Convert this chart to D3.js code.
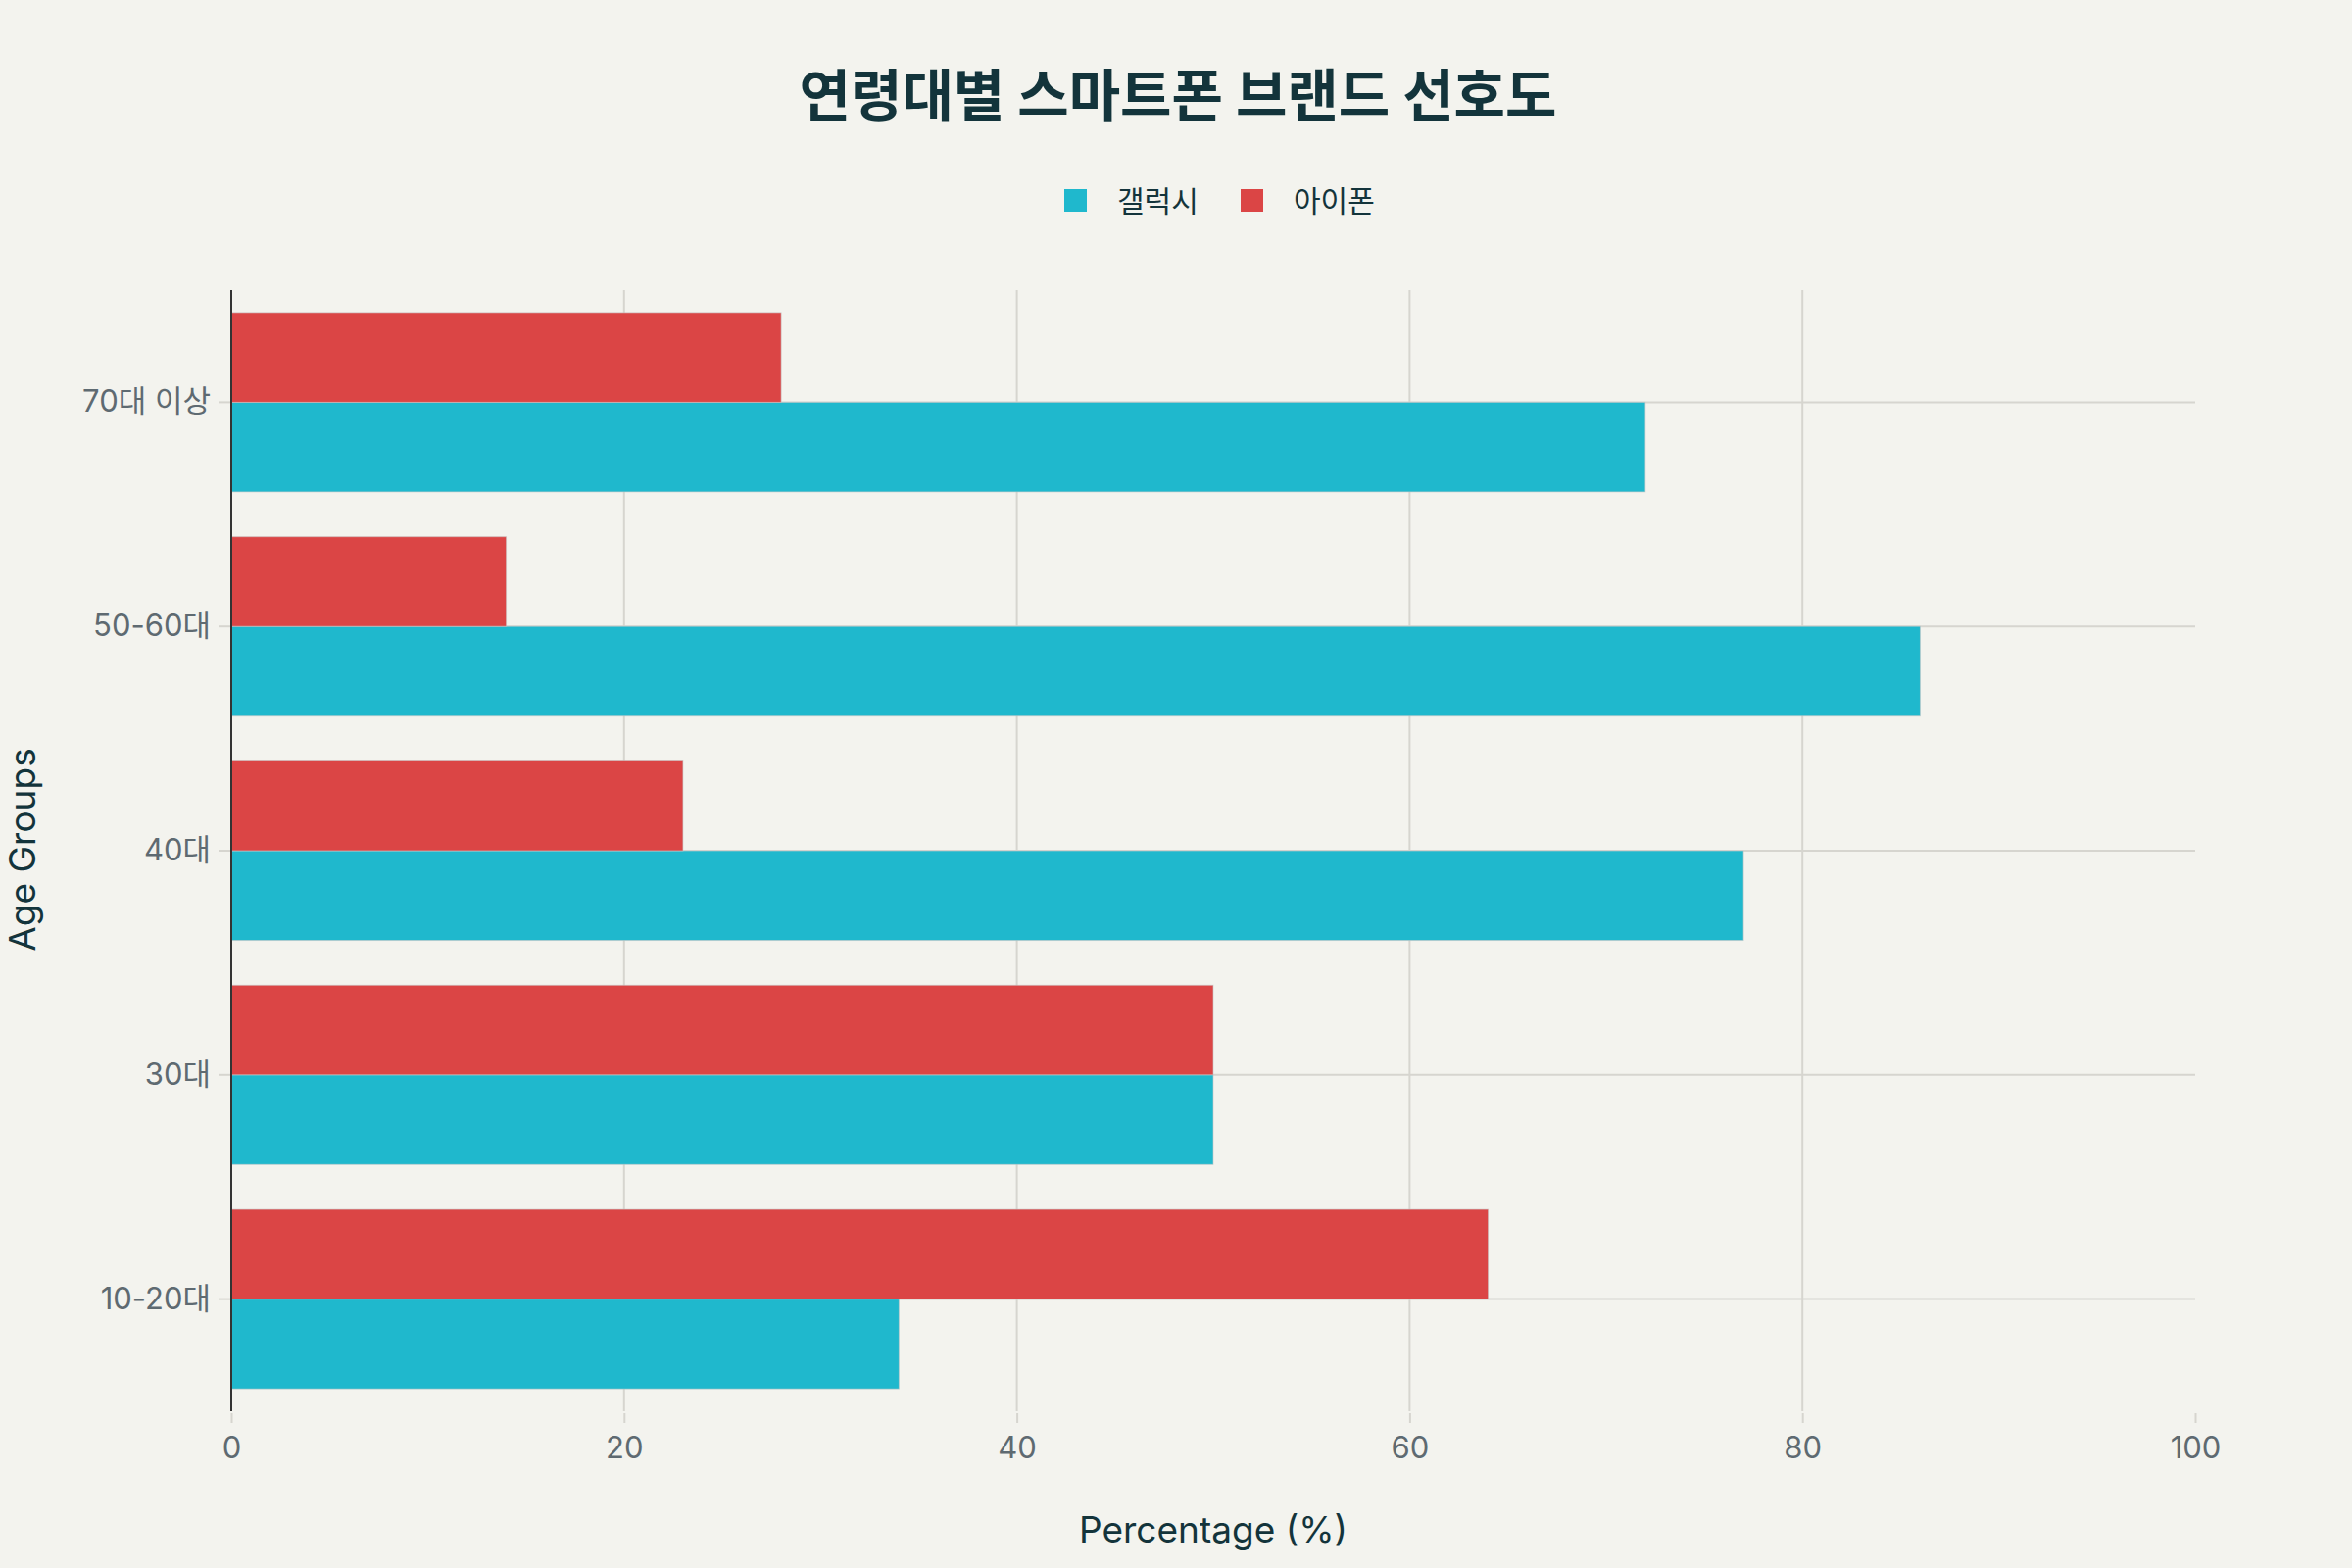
<!DOCTYPE html>
<html>
<head>
<meta charset="utf-8">
<script src="https://cdn.jsdelivr.net/npm/d3@7"></script>
<style>
  html, body { margin: 0; padding: 0; background: #F3F3EE; }
  svg { display: block; }
</style>
</head>
<body>
<svg id="chart" width="2400" height="1600"></svg>
<script>
const categories = ["10-20대", "30대", "40대", "50-60대", "70대 이상"];
const seriesNames = ["갤럭시", "아이폰"];
const galaxy = [34, 50, 77, 86, 72];
const iphone = [64, 50, 23, 14, 28];
const xTicks = [0, 20, 40, 60, 80, 100];
const colors = {"갤럭시": "#1FB8CD", "아이폰": "#DB4545"};

const W = 2400, H = 1600;
const margin = {left: 236, right: 160, top: 296, bottom: 160};
const FONT = "Inter, 'Noto Sans', 'Noto Sans CJK KR', sans-serif";

const svg = d3.select("#chart");
svg.append("rect").attr("width", W).attr("height", H).attr("fill", "#F3F3EE");

const x = d3.scaleLinear().domain([0, 100]).range([margin.left, W - margin.right]);
const y = d3.scaleBand().domain(categories.slice().reverse())
  .range([margin.top, H - margin.bottom]).paddingInner(0.2).paddingOuter(0.1);
const sub = d3.scaleBand().domain(["아이폰", "갤럭시"]).range([0, y.bandwidth()]);

const rows = categories.map((c, i) => ({cat: c, "갤럭시": galaxy[i], "아이폰": iphone[i]}));

// vertical gridlines
svg.append("g").selectAll("line").data(xTicks.filter(t => t > 0 && t < 100)).join("line")
  .attr("x1", d => x(d)).attr("x2", d => x(d))
  .attr("y1", margin.top).attr("y2", H - margin.bottom)
  .attr("stroke", "#D6D5CF").attr("stroke-width", 2);

// horizontal gridlines at category centers
svg.append("g").selectAll("line").data(categories).join("line")
  .attr("x1", x(0)).attr("x2", x(100))
  .attr("y1", d => y(d) + y.bandwidth() / 2).attr("y2", d => y(d) + y.bandwidth() / 2)
  .attr("stroke", "#D6D5CF").attr("stroke-width", 2);

// bars
const groups = svg.append("g").selectAll("g").data(rows).join("g")
  .attr("transform", d => `translate(0,${y(d.cat)})`);
groups.selectAll("rect").data(d => seriesNames.map(s => ({s, v: d[s]}))).join("rect")
  .attr("x", x(0))
  .attr("y", d => sub(d.s))
  .attr("width", d => x(d.v) - x(0))
  .attr("height", sub.bandwidth())
  .attr("fill", d => colors[d.s])
  .attr("stroke", "rgba(200,200,200,0.6)").attr("stroke-width", 1);

// x axis
const xAxis = d3.axisBottom(x).tickValues(xTicks).tickSize(10).tickPadding(14);
const gx = svg.append("g").attr("transform", `translate(0,${H - margin.bottom + 2})`).call(xAxis);
gx.select(".domain").remove();
gx.selectAll(".tick line").attr("stroke", "#D6D5CF").attr("stroke-width", 2);
gx.selectAll(".tick text").attr("font-family", FONT).attr("font-size", 31).attr("fill", "#5E6A71");

// y axis
const yAxis = d3.axisLeft(y).tickSize(12).tickPadding(8);
const gy = svg.append("g").attr("transform", `translate(${margin.left - 1},0)`).call(yAxis);
gy.select(".domain").remove();
gy.selectAll(".tick line").attr("stroke", "#D6D5CF").attr("stroke-width", 2);
gy.selectAll(".tick text").attr("font-family", FONT).attr("font-size", 31).attr("fill", "#5E6A71");

// zero line
svg.append("line").attr("x1", x(0)).attr("x2", x(0))
  .attr("y1", margin.top).attr("y2", H - margin.bottom)
  .attr("stroke", "#333").attr("stroke-width", 2);

// title
svg.append("text").attr("x", 1202).attr("y", 118).attr("text-anchor", "middle")
  .attr("font-family", "'Noto Sans CJK KR', sans-serif").attr("font-weight", 700)
  .attr("font-size", 57).attr("fill", "#13343B").text("연령대별 스마트폰 브랜드 선호도");

// legend
const legendItems = [{s: "갤럭시", x: 1086}, {s: "아이폰", x: 1266}];
const lg = svg.append("g").selectAll("g").data(legendItems).join("g")
  .attr("transform", d => `translate(${d.x},205)`);
lg.append("rect").attr("x", 0).attr("y", -12).attr("width", 23).attr("height", 23)
  .attr("fill", d => colors[d.s]);
lg.append("text").attr("x", 54).attr("y", 0).attr("dy", "0.36em")
  .attr("font-family", "'Noto Sans CJK KR', sans-serif").attr("font-size", 30)
  .attr("fill", "#13343B").text(d => d.s);

// axis titles
svg.append("text").attr("x", 1238).attr("y", 1574).attr("text-anchor", "middle")
  .attr("font-family", FONT).attr("font-size", 37).attr("fill", "#13343B")
  .text("Percentage (%)");
svg.append("text").attr("transform", "translate(36,867) rotate(-90)").attr("text-anchor", "middle")
  .attr("font-family", FONT).attr("font-size", 37).attr("fill", "#13343B")
  .text("Age Groups");
</script>
</body>
</html>
